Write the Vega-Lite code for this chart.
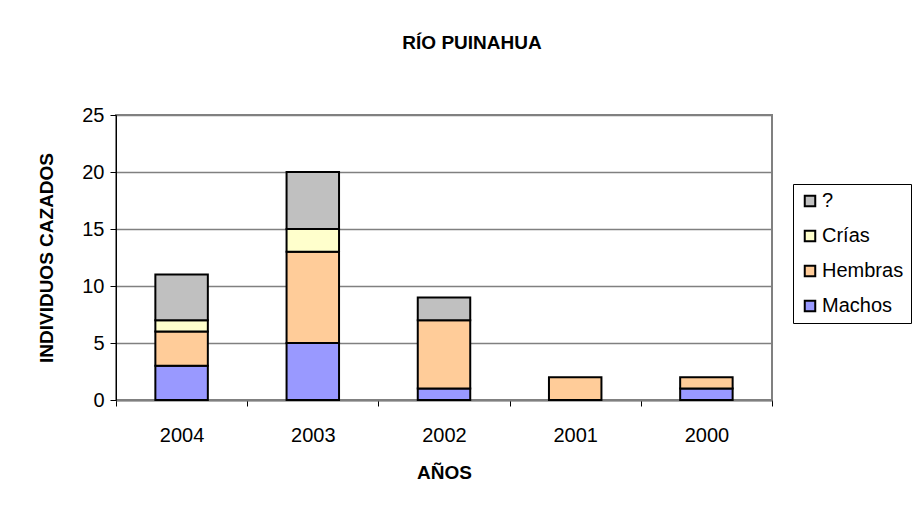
{
  "$schema": "https://vega.github.io/schema/vega-lite/v6.json",
  "width": 656,
  "height": 285,
  "autosize": {"type": "none"},
  "padding": {"left": 116, "top": 115, "right": 152, "bottom": 107},
  "background": "#ffffff",
  "title": {
    "text": "RÍO PUINAHUA",
    "font": "Liberation Sans",
    "fontSize": 19,
    "fontWeight": "bold",
    "color": "#000000",
    "anchor": "middle",
    "dx": 28,
    "offset": 52
  },
  "data": {
    "values": [
      {"anio": "2004", "grupo": "Machos", "individuos": 3},
      {"anio": "2004", "grupo": "Hembras", "individuos": 3},
      {"anio": "2004", "grupo": "Crías", "individuos": 1},
      {"anio": "2004", "grupo": "?", "individuos": 4},
      {"anio": "2003", "grupo": "Machos", "individuos": 5},
      {"anio": "2003", "grupo": "Hembras", "individuos": 8},
      {"anio": "2003", "grupo": "Crías", "individuos": 2},
      {"anio": "2003", "grupo": "?", "individuos": 5},
      {"anio": "2002", "grupo": "Machos", "individuos": 1},
      {"anio": "2002", "grupo": "Hembras", "individuos": 6},
      {"anio": "2002", "grupo": "?", "individuos": 2},
      {"anio": "2001", "grupo": "Hembras", "individuos": 2},
      {"anio": "2000", "grupo": "Machos", "individuos": 1},
      {"anio": "2000", "grupo": "Hembras", "individuos": 1}
    ]
  },
  "mark": {"type": "bar", "width": {"band": 0.4}, "stroke": "#000000", "strokeWidth": 2},
  "encoding": {
    "x": {
      "field": "anio",
      "type": "nominal",
      "sort": ["2004", "2003", "2002", "2001", "2000"],
      "scale": {"paddingInner": 0, "paddingOuter": 0},
      "axis": {
        "title": "AÑOS",
        "labelAngle": 0,
        "tickBand": "extent",
        "tickSize": 6,
        "labelPadding": 19,
        "titlePadding": 18
      }
    },
    "y": {
      "field": "individuos",
      "type": "quantitative",
      "aggregate": "sum",
      "stack": "zero",
      "scale": {"domain": [0, 25], "nice": false},
      "axis": {
        "title": "INDIVIDUOS CAZADOS",
        "values": [0, 5, 10, 15, 20, 25],
        "tickSize": 6,
        "labelPadding": 6,
        "titlePadding": 25,
        "grid": true
      }
    },
    "color": {
      "field": "grupo",
      "type": "nominal",
      "scale": {
        "domain": ["?", "Crías", "Hembras", "Machos"],
        "range": ["#c0c0c0", "#ffffcc", "#ffcc99", "#9999ff"]
      },
      "legend": {
        "title": null,
        "orient": "none",
        "legendX": 677,
        "legendY": 69,
        "symbolType": "square",
        "symbolSize": 110,
        "symbolStrokeColor": "#000000",
        "symbolStrokeWidth": 2,
        "symbolOpacity": 1,
        "labelFont": "Liberation Sans",
        "labelFontSize": 20,
        "labelColor": "#000000",
        "labelOffset": 2,
        "rowPadding": 15,
        "padding": 7,
        "strokeColor": "#000000",
        "fillColor": "#ffffff",
        "labelLimit": 300
      }
    },
    "order": {"field": "grupo", "sort": "descending"}
  },
  "config": {
    "view": {"stroke": "#808080", "strokeWidth": 2},
    "axis": {
      "domainColor": "#000000",
      "domainWidth": 1,
      "tickColor": "#000000",
      "tickWidth": 1,
      "gridColor": "#808080",
      "gridWidth": 1.5,
      "labelFont": "Liberation Sans",
      "labelFontSize": 20,
      "labelColor": "#000000",
      "titleFont": "Liberation Sans",
      "titleFontSize": 19,
      "titleFontWeight": "bold",
      "titleColor": "#000000"
    },
    "axisX": {"domainColor": "#808080", "domainWidth": 2}
  }
}
